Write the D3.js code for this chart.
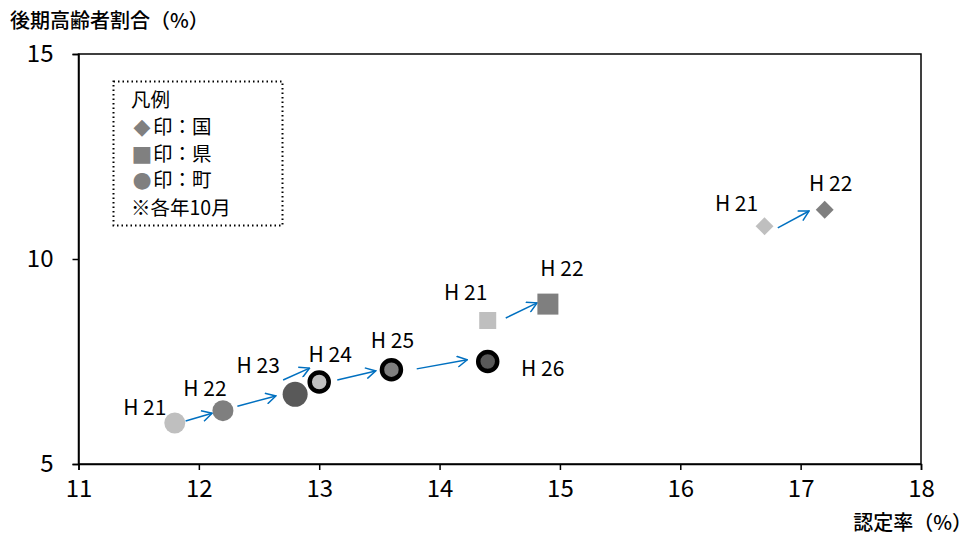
<!DOCTYPE html>
<html><head><meta charset="utf-8">
<script src="https://cdn.jsdelivr.net/npm/d3@7"></script>
<style>
body{margin:0;background:#fff;}
text{font-family:"Noto Sans CJK JP","Noto Sans",sans-serif;fill:#000;}
.num{font-family:"Liberation Sans Narrow","Noto Sans CJK JP",sans-serif;}
.sym{font-family:"DejaVu Sans",sans-serif;}
</style></head>
<body><svg id="c" width="974" height="536"></svg>
<script>
const xTicks=[11,12,13,14,15,16,17,18];
const yTicks=[5,10,15];
// 国 (diamond)
const kuniLabels=["H 21","H 22"];
const kuniX=[16.7,17.2];
const kuniY=[10.8,11.2];
// 県 (square)
const kenLabels=["H 21","H 22"];
const kenX=[14.4,14.9];
const kenY=[8.5,8.9];
// 町 (circle)
const choLabels=["H 21","H 22","H 23","H 24","H 25","H 26"];
const choX=[11.8,12.2,12.8,13.0,13.6,14.4];
const choY=[6.0,6.3,6.7,7.0,7.3,7.5];
// arrows (data units): start x, start y, end x, end y
const arrowX0=[11.89,12.32,12.70,13.15,13.81,14.55,16.81];
const arrowY0=[6.05,6.41,7.05,7.05,7.32,8.56,10.76];
const arrowX1=[12.11,12.64,12.92,13.47,14.23,14.81,17.07];
const arrowY1=[6.24,6.66,7.34,7.27,7.54,8.93,11.17];
const legendTitle="凡例";
const legendSymbols=["◆","■","●"];
const legendTexts=["印：国","印：県","印：町"];
const legendNote="※各年10月";

const svg=d3.select("#c");
const L=78.5,R=921,T=54,B=464;
const x=d3.scaleLinear().domain([11,18]).range([L,R]);
const y=d3.scaleLinear().domain([5,15]).range([B,T]);

svg.append("rect").attr("x",L).attr("y",T).attr("width",R-L).attr("height",B-T)
  .attr("fill","none").attr("stroke","#000").attr("stroke-width",1.5);

const xa=svg.append("g").attr("transform",`translate(0,${B})`)
  .call(d3.axisBottom(x).tickValues(xTicks).tickSize(6).tickFormat(d3.format("d")));
xa.select(".domain").attr("stroke","#000").attr("stroke-width",1.5);
xa.selectAll("line").attr("stroke","#000").attr("stroke-width",1.5);
xa.selectAll("text").attr("class","num").attr("font-size",24).attr("y",16);

const ya=svg.append("g").attr("transform",`translate(${L},0)`)
  .call(d3.axisLeft(y).tickValues(yTicks).tickSize(6).tickFormat(d3.format("d")));
ya.select(".domain").attr("stroke","#000").attr("stroke-width",1.5);
ya.selectAll("line").attr("stroke","#000").attr("stroke-width",1.5);
ya.selectAll("text").attr("class","num").attr("font-size",24).attr("x",-25);

svg.append("text").attr("x",10).attr("y",28).attr("font-size",20).attr("font-weight",500).text("後期高齢者割合（%）");
svg.append("text").attr("x",972).attr("y",530).attr("text-anchor","end").attr("font-size",20).attr("font-weight",500).text("認定率（%）");

// legend
svg.append("rect").attr("x",113.5).attr("y",81.5).attr("width",169).attr("height",144)
  .attr("fill","#fff").attr("stroke","#000").attr("stroke-width",2).attr("stroke-dasharray","1.5,3");
const lg=svg.append("g");
lg.append("text").attr("x",131).attr("y",107).attr("font-size",19.5).text(legendTitle);
lg.selectAll("text.sym").data(legendSymbols).join("text").attr("class","sym")
  .attr("x",142).attr("y",(d,i)=>134+i*26.5).attr("text-anchor","middle")
  .attr("font-size",22).style("fill","#808080").text(d=>d);
lg.selectAll("text.lt").data(legendTexts).join("text").attr("class","lt")
  .attr("x",153).attr("y",(d,i)=>134+i*26.5).attr("font-size",19.5).text(d=>d);
lg.append("text").attr("x",131).attr("y",215).attr("font-size",19.5).text(legendNote);

// arrow marker
svg.append("defs").append("marker").attr("id","ah").attr("viewBox","0 0 12 12").attr("refX",11).attr("refY",6)
  .attr("markerWidth",12).attr("markerHeight",12).attr("markerUnits","userSpaceOnUse").attr("orient","auto")
  .append("path").attr("d","M1,0.5 L11,6 L1,11.5").attr("fill","none").attr("stroke","#0070c0").attr("stroke-width",1.5);

svg.append("g").selectAll("line").data(arrowX0).join("line")
  .attr("x1",d=>x(d)).attr("y1",(d,i)=>y(arrowY0[i]))
  .attr("x2",(d,i)=>x(arrowX1[i])).attr("y2",(d,i)=>y(arrowY1[i]))
  .attr("stroke","#0070c0").attr("stroke-width",1.5).attr("marker-end","url(#ah)");

// 国 diamonds
const kuniFill=["#bfbfbf","#7f7f7f"];
svg.append("g").selectAll("path").data(kuniX).join("path")
  .attr("d",d3.symbol().type(d3.symbolSquare).size(160))
  .attr("transform",(d,i)=>`translate(${x(d)},${y(kuniY[i])}) rotate(45)`)
  .attr("fill",(d,i)=>kuniFill[i]);
// 県 squares
const kenFill=["#bfbfbf","#7f7f7f"];
const kenSize=[17,21];
svg.append("g").selectAll("rect").data(kenX).join("rect")
  .attr("x",(d,i)=>x(d)-kenSize[i]/2).attr("y",(d,i)=>y(kenY[i])-kenSize[i]/2)
  .attr("width",(d,i)=>kenSize[i]).attr("height",(d,i)=>kenSize[i])
  .attr("fill",(d,i)=>kenFill[i]);
// 町 circles
const choFill=["#bfbfbf","#7f7f7f","#595959","#bfbfbf","#7f7f7f","#595959"];
const choR=[10.5,10.5,12.5,9.5,9.5,9.5];
const choStroke=[null,null,null,"#000","#000","#000"];
svg.append("g").selectAll("circle").data(choX).join("circle")
  .attr("cx",d=>x(d)).attr("cy",(d,i)=>y(choY[i])).attr("r",(d,i)=>choR[i])
  .attr("fill",(d,i)=>choFill[i])
  .attr("stroke",(d,i)=>choStroke[i]||"none").attr("stroke-width",4.5);

// labels
function labels(xs,ys,labs,offs){
  svg.append("g").selectAll("text").data(labs).join("text")
    .attr("class","num")
    .attr("x",(d,i)=>x(xs[i])+offs[i][0]).attr("y",(d,i)=>y(ys[i])+offs[i][1])
    .attr("text-anchor","middle").attr("font-size",21).text(d=>d);
}
labels(choX,choY,choLabels,[[-30,-8],[-18,-15],[-37,-21],[11,-20],[1,-22],[55,14]]);
labels(kenX,kenY,kenLabels,[[-22,-21],[14,-28]]);
labels(kuniX,kuniY,kuniLabels,[[-28,-15],[6,-19]]);
</script></body></html>
